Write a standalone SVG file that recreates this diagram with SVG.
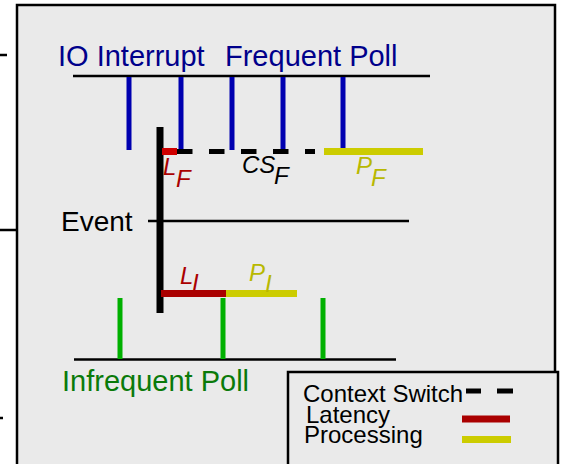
<svg xmlns="http://www.w3.org/2000/svg" width="561" height="464" viewBox="0 0 561 464">
<style>
.t{font-family:"Liberation Sans",Arial,sans-serif}
.it{font-family:"Liberation Sans",Arial,sans-serif;font-style:italic;font-size:24px}
.blk{stroke:#000;stroke-width:2.5;fill:none}
.blue{stroke:#0000b0;stroke-width:5}
.green{stroke:#00b000;stroke-width:5}
</style>
<rect width="561" height="464" fill="#fff"/>
<g id="frame">
<rect x="17" y="5" width="538" height="470" fill="#eaeaea" stroke="#000" stroke-width="2.5"/>
<line x1="0" y1="55" x2="7" y2="55" class="blk"/>
<line x1="0" y1="230" x2="17" y2="230" class="blk"/>
<line x1="0" y1="418" x2="3" y2="418" class="blk"/>
</g>
<g id="frequent-timeline">
<text class="t" x="58" y="66" font-size="29" fill="#00008b">IO Interrupt</text>
<text class="t" x="225" y="66" font-size="29" fill="#00008b">Frequent Poll</text>
<line x1="73" y1="76" x2="430" y2="76" class="blk"/>
</g>
<g id="event-timeline">
<text class="t" x="61" y="231" font-size="28" fill="#000">Event</text>
<line x1="148" y1="221" x2="409" y2="221" class="blk"/>
</g>
<g id="infrequent-timeline">
<line x1="74" y1="359.5" x2="396" y2="359.5" class="blk"/>
<text class="t" x="62" y="391" font-size="29" fill="#0a7a0a">Infrequent Poll</text>
</g>
<g id="connectors">
<line x1="129" y1="77" x2="129" y2="150" class="blue"/>
<line x1="181" y1="77" x2="181" y2="149" class="blue"/>
<line x1="232" y1="77" x2="232" y2="150" class="blue"/>
<line x1="283" y1="77" x2="283" y2="149" class="blue"/>
<line x1="343" y1="77" x2="343" y2="148" class="blue"/>
<line x1="120" y1="298" x2="120" y2="359" class="green"/>
<line x1="223" y1="298" x2="223" y2="359" class="green"/>
<line x1="323" y1="298" x2="323" y2="359" class="green"/>
<line x1="160" y1="127" x2="160" y2="313" stroke="#000" stroke-width="7"/>
<line x1="177" y1="151.5" x2="315" y2="151.5" stroke="#000" stroke-width="5" stroke-dasharray="15.5 16.5"/>
<line x1="162" y1="151.5" x2="177" y2="151.5" stroke="#d00000" stroke-width="7"/>
<line x1="324" y1="151.5" x2="423" y2="151.5" stroke="#cccc00" stroke-width="7"/>
<line x1="161" y1="293.5" x2="226" y2="293.5" stroke="#aa0000" stroke-width="7"/>
<line x1="226" y1="293.5" x2="297" y2="293.5" stroke="#cccc00" stroke-width="7"/>
</g>
<g id="labels">
<text class="it" x="163" y="175" fill="#aa0000">L</text>
<text class="it" x="176" y="187" fill="#aa0000">F</text>
<text class="it" x="242" y="173" fill="#000">CS</text>
<text class="it" x="274" y="184" fill="#000">F</text>
<text class="it" x="356" y="174" fill="#b8b800">P</text>
<text class="it" x="371" y="186" fill="#b8b800">F</text>
<text class="it" x="180" y="284" fill="#aa0000">L</text>
<text class="it" x="192" y="291" fill="#aa0000">I</text>
<text class="it" x="249" y="281" fill="#b8b800">P</text>
<text class="it" x="265" y="292" fill="#b8b800">I</text>
</g>
<g id="legend">
<rect x="288" y="372" width="270" height="100" fill="#eaeaea" stroke="#000" stroke-width="2.5"/>
<text class="t" x="303" y="402" font-size="24" fill="#000">Context Switch</text>
<text class="t" x="306" y="423" font-size="24" fill="#000">Latency</text>
<text class="t" x="304" y="443" font-size="24" fill="#000">Processing</text>
<line x1="466" y1="391" x2="481" y2="391" stroke="#000" stroke-width="5"/>
<line x1="497" y1="391" x2="513" y2="391" stroke="#000" stroke-width="5"/>
<line x1="462" y1="419" x2="510" y2="419" stroke="#aa0000" stroke-width="7"/>
<line x1="462" y1="439.5" x2="511" y2="439.5" stroke="#cccc00" stroke-width="7"/>
</g>
</svg>
